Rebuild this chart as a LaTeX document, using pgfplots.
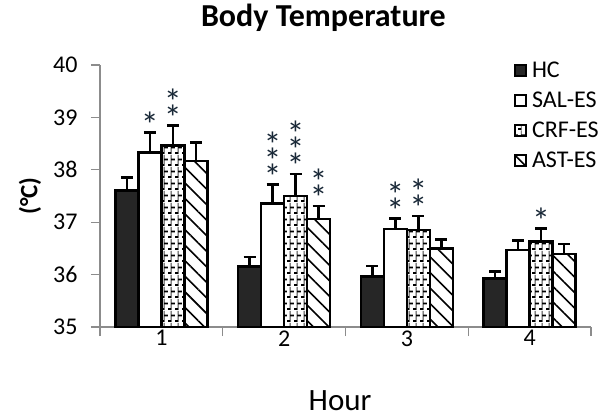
\documentclass[border=0pt]{standalone}
\usepackage{fontspec}
\setmainfont{Carlito}
\usepackage{pgfplots}
\pgfplotsset{compat=1.18}
\usetikzlibrary{patterns,patterns.meta}

\definecolor{darkbar}{RGB}{38,38,38}
\definecolor{axisgray}{RGB}{140,140,140}
\definecolor{starcol}{RGB}{25,40,55}

\pgfdeclarepatterninherentlycolored{vbricks}{\pgfqpoint{0bp}{0bp}}{\pgfqpoint{7bp}{12bp}}{\pgfqpoint{7bp}{12bp}}{%
  \pgfsetlinewidth{1bp}\pgfsetstrokecolor{darkgray}%
  \pgfpathmoveto{\pgfqpoint{3.5bp}{0bp}}\pgfpathlineto{\pgfqpoint{3.5bp}{12bp}}\pgfusepath{stroke}%
  \pgfsetlinewidth{2bp}\pgfsetstrokecolor{black}%
  \pgfpathmoveto{\pgfqpoint{0bp}{1bp}}\pgfpathlineto{\pgfqpoint{3.5bp}{1bp}}%
  \pgfpathmoveto{\pgfqpoint{3.5bp}{7bp}}\pgfpathlineto{\pgfqpoint{7bp}{7bp}}\pgfusepath{stroke}%
}

\pgfplotstableread{
x y e
1 37.61 0.24
2 36.15 0.19
3 35.96 0.20
4 35.93 0.13
}\hcdata
\pgfplotstableread{
x y e
1 38.33 0.38
2 37.36 0.36
3 36.87 0.20
4 36.47 0.18
}\saldata
\pgfplotstableread{
x y e
1 38.46 0.39
2 37.50 0.42
3 36.85 0.27
4 36.63 0.25
}\crfdata
\pgfplotstableread{
x y e
1 38.17 0.35
2 37.06 0.25
3 36.50 0.17
4 36.39 0.19
}\astdata

\begin{document}
\begin{tikzpicture}
\path[use as bounding box] (-100bp,-91bp) rectangle (500bp,327bp);
\begin{axis}[
  at={(0,0)}, anchor=south west,
  scale only axis, width=491bp, height=262bp,
  xmin=0.5, xmax=4.5, ymin=35, ymax=40,
  ybar=0pt, bar width=23bp,
  ytick={35,36,37,38,39,40},
  xtick={0.5,1.5,2.5,3.5,4.5}, xticklabels={},
  extra x ticks={1,2,3,4}, extra x tick labels={1,2,3,4},
  extra x tick style={major tick length=0pt},
  axis x line=bottom, axis y line=left,
  axis line style={-, draw=axisgray, line width=1.3bp},
  tick style={draw=axisgray, line width=1.3bp},
  major tick length=9bp, tick align=outside,
  /pgf/number format/assume math mode=true,
  tick label style={font=\fontsize{24bp}{28bp}\selectfont, text=black},
  yticklabel style={xshift=-10bp},
  title={\textbf{Body Temperature}},
  title style={font=\fontsize{32bp}{36bp}\selectfont, at={(axis description cs:0.455,1)}, anchor=base, yshift=33bp},
  xlabel={Hour},
  xlabel style={font=\fontsize{31bp}{35bp}\selectfont, at={(axis description cs:0.489,0)}, anchor=base, yshift=-83bp},
  ylabel={\textbf{(°C)}},
  ylabel style={font=\fontsize{25bp}{29bp}\selectfont, at={(axis description cs:-0.1426,0.5)}, anchor=center},
  legend style={at={(axis description cs:0.842,1.02)}, anchor=north west, draw=none, fill=none,
    font=\fontsize{24bp}{28bp}\selectfont, row sep=9bp, inner sep=0pt},
  legend cell align=left,
  legend image code/.code={\draw[#1, line width=2.2bp] (0bp,-5.5bp) rectangle (11bp,5.5bp); \path (14bp,0bp);},
  error bars/y dir=plus, error bars/y explicit,
  error bars/error bar style={line width=2.5bp, black},
  error bars/error mark options={rotate=90, mark size=6bp, line width=2.5bp, black},
]
\addplot[fill=darkbar, draw=black, line width=2.6bp]
  table[x=x, y=y, y error=e]{\hcdata};
\addlegendentry{HC}
\addplot[fill=white, draw=black, line width=2.6bp]
  table[x=x, y=y, y error=e]{\saldata};
\addlegendentry{SAL-ES}
\addplot[pattern=vbricks, draw=black, line width=2.6bp]
  table[x=x, y=y, y error=e]{\crfdata};
\addlegendentry{CRF-ES}
\addplot[pattern={Lines[angle=-45, distance=11bp, line width=1.6bp]}, draw=black, line width=2.6bp]
  table[x=x, y=y, y error=e]{\astdata};
\addlegendentry{AST-ES}
\end{axis}
\begin{axis}[
  at={(0,0)}, anchor=south west,
  scale only axis, width=491bp, height=262bp,
  xmin=0.5, xmax=4.5, ymin=35, ymax=40,
  hide axis, clip=false,
]
\addplot[draw=none, mark=none, nodes near coords, point meta=explicit symbolic,
  nodes near coords style={anchor=south, align=center, font={\fontsize{36bp}{16bp}\selectfont\lineskiplimit=-100bp}, text=starcol, inner sep=0pt, yshift=-5bp}]
  coordinates {
  (0.9063,38.71) [*]
  (1.0937,38.85) [{*\\*}]
  (1.9063,37.72) [{*\\*\\*}]
  (2.0937,37.92) [{*\\*\\*}]
  (2.2810,37.31) [{*\\*}]
  (2.9063,37.07) [{*\\*}]
  (3.0937,37.12) [{*\\*}]
  (4.0937,36.88) [*]
  };
\end{axis}
\end{tikzpicture}
\end{document}
